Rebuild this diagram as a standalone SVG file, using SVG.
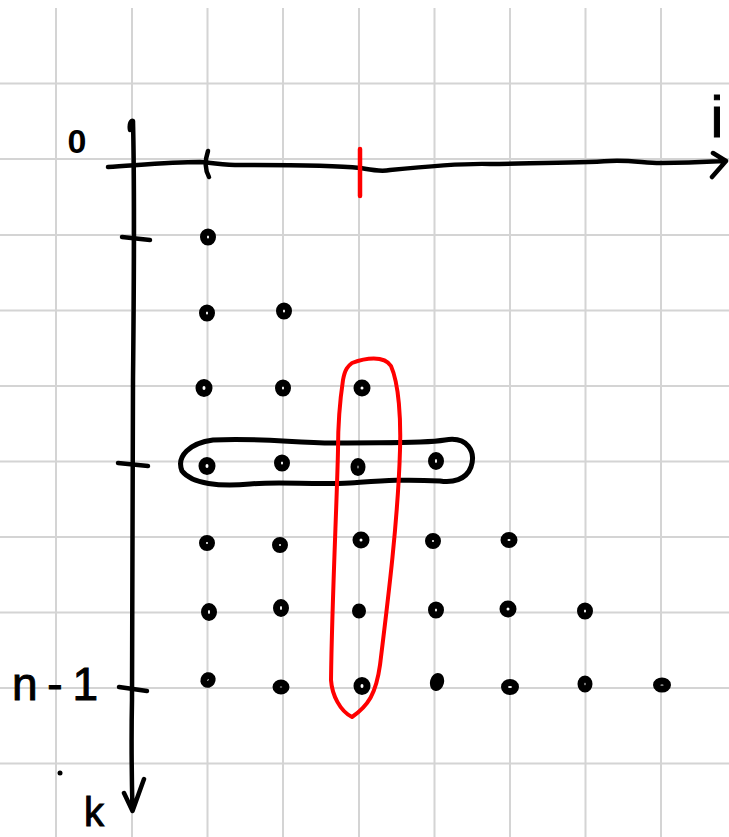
<svg xmlns="http://www.w3.org/2000/svg" width="729" height="837" viewBox="0 0 729 837">
<style>
.grid line{stroke:#d4d4d4;stroke-width:2}
.ink{fill:none;stroke:#000;stroke-width:4.5;stroke-linecap:round;stroke-linejoin:round}
.red{fill:none;stroke:#ff0000;stroke-width:4;stroke-linecap:round;stroke-linejoin:round}
.dot{fill:#fff;stroke:#000;stroke-width:7}
.lbl{font-family:"Liberation Sans",Arial,sans-serif;fill:#000}
</style>
<rect width="729" height="837" fill="#fff"/>
<g class="grid">
<line x1="56" y1="8" x2="56" y2="837"/><line x1="132" y1="8" x2="132" y2="837"/><line x1="207.5" y1="8" x2="207.5" y2="837"/><line x1="283" y1="8" x2="283" y2="837"/><line x1="359" y1="8" x2="359" y2="837"/><line x1="434.5" y1="8" x2="434.5" y2="837"/><line x1="510" y1="8" x2="510" y2="837"/><line x1="585.5" y1="8" x2="585.5" y2="837"/><line x1="661" y1="8" x2="661" y2="837"/>
<line x1="0" y1="83.5" x2="729" y2="83.5"/><line x1="0" y1="159" x2="729" y2="159"/><line x1="0" y1="235" x2="729" y2="235"/><line x1="0" y1="310.5" x2="729" y2="310.5"/><line x1="0" y1="386" x2="729" y2="386"/><line x1="0" y1="461.5" x2="729" y2="461.5"/><line x1="0" y1="537" x2="729" y2="537"/><line x1="0" y1="612.5" x2="729" y2="612.5"/><line x1="0" y1="688" x2="729" y2="688"/><line x1="0" y1="763.5" x2="729" y2="763.5"/>
</g>
<g id="connectors">
<path id="axis-i" class="ink" d="M108,167 C140,165 170,162 200,162 C215,163 225,165 240,165 C290,165 330,165 360,168 C372,170 380,172 390,170 C420,167 460,163 490,164 C540,163 580,163 610,161 C630,160 645,163 660,163 C690,163 705,162 722,161 M713,153 L726,161 L712,177"/>
<path id="axis-k" class="ink" d="M130,130 C129,124 131,120 133,121 C135,200 134,280 133,380 C132,500 133,600 132,700 C131,750 132,790 132.5,811 M124,793 L132.5,811 L144,779"/>
<path class="ink" d="M208,151 C205,160 205,170 209,177"/>
<path class="ink" d="M122,237 L150,240"/>
<path class="ink" d="M118,463 L148,466"/>
<path class="ink" d="M119,687 L147,691"/>
<path class="red" d="M360,149 L360,196" style="stroke-width:4.5"/>
</g>
<g id="row-group" class="ink" style="stroke-width:5">
<path d="M213,440 C260,437 300,444 340,443 C380,442 420,444 445,440 C468,436 476,452 471,467 C466,480 452,483 440,481 C400,479 380,481 350,483 C310,485 280,481 250,484 C220,487 192,484 182,471 C176,456 190,443 213,440 Z"/>
</g>
<g id="column-group">
<path class="red" d="M352,363 C365,358 384,355 391,366 C399,384 401,420 400,450 C398,520 388,600 380,665 C376,694 368,706 352,717 C340,711 332,695 331,680 C332,600 337,500 338,450 C338,420 340,400 343,380 C345,369 348,366 352,363 Z"/>
</g>
<g id="points">
<ellipse class="dot" cx="208" cy="237" rx="4.5" ry="5"/>
<ellipse class="dot" cx="207" cy="313" rx="4.5" ry="5"/><ellipse class="dot" cx="284" cy="311" rx="4.5" ry="5"/>
<ellipse class="dot" cx="204" cy="388" rx="5" ry="5.5"/><ellipse class="dot" cx="283" cy="388" rx="4.5" ry="5"/><ellipse class="dot" cx="362" cy="388" rx="5" ry="5"/>
<ellipse class="dot" cx="207" cy="466" rx="5" ry="5.5"/><ellipse class="dot" cx="282" cy="463" rx="4.5" ry="5"/><ellipse class="dot" cx="358" cy="467" rx="4" ry="5.5"/><ellipse class="dot" cx="436" cy="461" rx="4.5" ry="5.5"/>
<ellipse class="dot" cx="207" cy="543" rx="4.5" ry="4.5"/><ellipse class="dot" cx="280" cy="545" rx="4.5" ry="4.5"/><ellipse class="dot" cx="361" cy="540" rx="5" ry="5"/><ellipse class="dot" cx="433" cy="541" rx="4.5" ry="4.5"/><ellipse class="dot" cx="509" cy="540" rx="5" ry="4.5"/>
<ellipse class="dot" cx="209" cy="612" rx="4.5" ry="5.5"/><ellipse class="dot" cx="281" cy="608" rx="4.5" ry="5.5"/><ellipse class="dot" cx="359" cy="611" rx="3.5" ry="4"/><ellipse class="dot" cx="436" cy="610" rx="4.5" ry="5"/><ellipse class="dot" cx="508" cy="609" rx="5" ry="5"/><ellipse class="dot" cx="585" cy="611" rx="4.5" ry="5"/>
<ellipse class="dot" cx="208" cy="680" rx="4" ry="4.5" transform="rotate(35 208 680)"/><ellipse class="dot" cx="281" cy="687" rx="5" ry="4"/><ellipse class="dot" cx="362" cy="686" rx="5" ry="5.5"/><ellipse class="dot" cx="437" cy="682" rx="3.5" ry="5.5" transform="rotate(15 437 682)"/><ellipse class="dot" cx="510" cy="687" rx="5.5" ry="4.5"/><ellipse class="dot" cx="585" cy="684" rx="4" ry="5"/><ellipse class="dot" cx="662" cy="685" rx="5.5" ry="4"/>
</g>
<g id="labels">
<text class="lbl" x="77" y="153" font-size="34" font-weight="bold" text-anchor="middle">0</text>
<text class="lbl" x="717" y="137" font-size="58" text-anchor="middle" stroke="#000" stroke-width="1">i</text>
<text class="lbl" x="12" y="700" font-size="46" textLength="86" lengthAdjust="spacing" stroke="#000" stroke-width="1">n-1</text>
<text class="lbl" x="94" y="826" font-size="40" text-anchor="middle" stroke="#000" stroke-width="1">k</text>
<circle cx="60" cy="773" r="2.5" fill="#000"/>
</g>
</svg>
